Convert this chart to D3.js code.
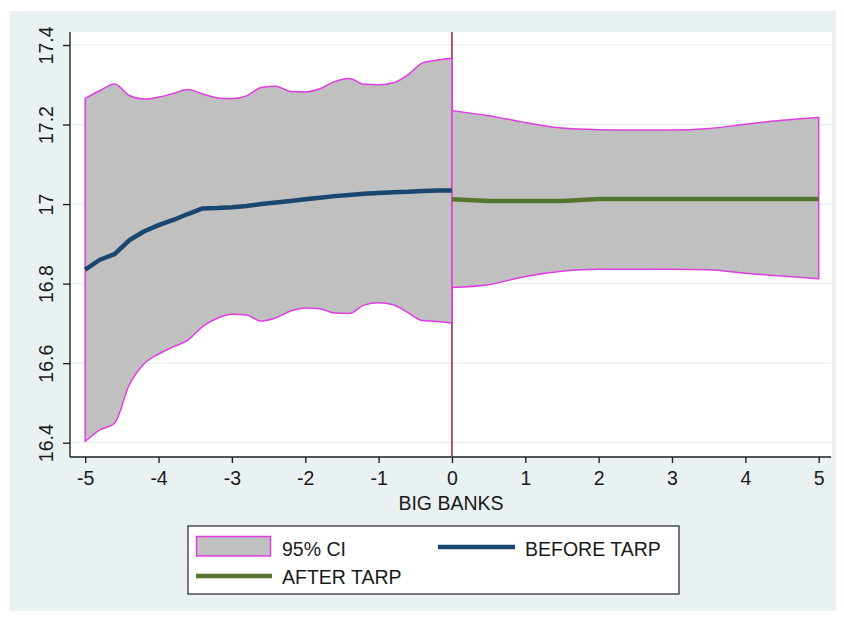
<!DOCTYPE html>
<html>
<head>
<meta charset="utf-8">
<script src="https://cdn.jsdelivr.net/npm/d3@7"></script>
<style>
  html, body { margin: 0; padding: 0; background: #ffffff; }
  svg { display: block; }
  text { font-family: "Liberation Sans", Arial, sans-serif; fill: #1a1a1a; }
</style>
</head>
<body>
<svg id="chart" width="844" height="617"></svg>
<script>
// Period grid before the event (t = -5 .. 0)
const beforeX = [-5, -4.8, -4.6, -4.4, -4.2, -4.0, -3.8, -3.6, -3.4, -3.2, -3.0, -2.8, -2.6,
                 -2.4, -2.2, -2.0, -1.8, -1.6, -1.4, -1.2, -1.0, -0.8, -0.6, -0.4, -0.2, 0];
const beforeFit = [16.835, 16.860, 16.874, 16.909, 16.931, 16.947, 16.960, 16.975, 16.989, 16.990,
                   16.992, 16.995, 17.000, 17.004, 17.008, 17.012, 17.016, 17.020, 17.023, 17.026,
                   17.028, 17.030, 17.031, 17.033, 17.034, 17.034];
const beforeUpper = [17.266, 17.285, 17.302, 17.273, 17.264, 17.269, 17.278, 17.288, 17.277, 17.267,
                     17.265, 17.272, 17.293, 17.296, 17.283, 17.282, 17.290, 17.308, 17.316, 17.301,
                     17.300, 17.305, 17.325, 17.355, 17.362, 17.367];
const beforeLower = [16.403, 16.432, 16.449, 16.545, 16.598, 16.623, 16.641, 16.658, 16.692, 16.713,
                     16.723, 16.721, 16.706, 16.714, 16.731, 16.739, 16.737, 16.726, 16.725, 16.746,
                     16.752, 16.747, 16.727, 16.707, 16.705, 16.701];

// Period grid after the event (t = 0 .. 5)
const afterX = [0, 0.5, 1.0, 1.5, 2.0, 2.5, 3.0, 3.5, 4.0, 4.5, 5.0];
const afterFit = [17.012, 17.008, 17.008, 17.008, 17.013, 17.013, 17.013, 17.013, 17.013, 17.013, 17.013];
const afterUpper = [17.235, 17.222, 17.205, 17.191, 17.187, 17.186, 17.186, 17.190, 17.201, 17.211, 17.218];
const afterLower = [16.790, 16.797, 16.818, 16.831, 16.836, 16.836, 16.836, 16.835, 16.826, 16.819, 16.812];

const xTicks = [-5, -4, -3, -2, -1, 0, 1, 2, 3, 4, 5];
const yTicks = [16.4, 16.6, 16.8, 17, 17.2, 17.4];
const xTitle = "BIG BANKS";
const legendItems = ["95% CI", "BEFORE TARP", "AFTER TARP"];

const colors = {
  graphBg: "#eaf1f3",
  plotBg: "#ffffff",
  grid: "#e6eef0",
  band: "#c0c0c0",
  bandEdge: "#e03ce0",
  before: "#1a476f",
  after: "#55752f",
  xline: "#9b1b3b",
  axis: "#222222"
};

const svg = d3.select("#chart");

// Graph region background
svg.append("rect").attr("x", 10).attr("y", 11).attr("width", 826).attr("height", 600)
  .attr("fill", colors.graphBg);

// Plot region
const plot = { left: 70, right: 832, top: 32, bottom: 456 };
svg.append("rect")
  .attr("x", plot.left).attr("y", plot.top)
  .attr("width", plot.right - plot.left).attr("height", plot.bottom - plot.top)
  .attr("fill", colors.plotBg);

const x = d3.scaleLinear().domain([-5, 5]).range([85.2, 818.7]);
const y = d3.scaleLinear().domain([16.4, 17.4]).range([442.7, 45]);

// Horizontal grid lines
svg.append("g").selectAll("line").data(yTicks).join("line")
  .attr("x1", plot.left).attr("x2", plot.right)
  .attr("y1", d => y(d)).attr("y2", d => y(d))
  .attr("stroke", colors.grid).attr("stroke-width", 1.2);

// Reference line at t = 0
svg.append("line")
  .attr("x1", x(0)).attr("x2", x(0))
  .attr("y1", plot.top).attr("y2", plot.bottom)
  .attr("stroke", colors.xline).attr("stroke-width", 1.5);

// Confidence bands
const band = d3.area().x(d => x(d.x)).y0(d => y(d.lo)).y1(d => y(d.hi)).curve(d3.curveMonotoneX);
const beforeBand = beforeX.map((v, i) => ({ x: v, lo: beforeLower[i], hi: beforeUpper[i] }));
const afterBand = afterX.map((v, i) => ({ x: v, lo: afterLower[i], hi: afterUpper[i] }));
[beforeBand, afterBand].forEach(b => {
  svg.append("path").datum(b).attr("d", band)
    .attr("fill", colors.band)
    .attr("stroke", colors.bandEdge).attr("stroke-width", 1.5)
    .attr("stroke-linejoin", "round");
});

// Fitted lines
const fitLine = d3.line().x(d => x(d.x)).y(d => y(d.v));
svg.append("path").datum(beforeX.map((v, i) => ({ x: v, v: beforeFit[i] })))
  .attr("d", fitLine).attr("fill", "none")
  .attr("stroke", colors.before).attr("stroke-width", 4.5).attr("stroke-linejoin", "round");
svg.append("path").datum(afterX.map((v, i) => ({ x: v, v: afterFit[i] })))
  .attr("d", fitLine).attr("fill", "none")
  .attr("stroke", colors.after).attr("stroke-width", 4.5).attr("stroke-linejoin", "round");

// Axes
const xAxis = d3.axisBottom(x).tickValues(xTicks).tickFormat(d3.format("d")).tickSize(6).tickPadding(8);
const gx = svg.append("g").attr("transform", `translate(0,${plot.bottom + 1})`).call(xAxis);
gx.select(".domain").remove();
gx.selectAll(".tick line").attr("stroke", colors.axis).attr("stroke-width", 1.4);
gx.selectAll(".tick text").attr("font-size", 19.5).attr("fill", "#1a1a1a")
  .attr("font-family", "'Liberation Sans', Arial, sans-serif")
  .text(d => d < 0 ? "-" + Math.abs(d) : d);

const yAxis = d3.axisLeft(y).tickValues(yTicks).tickFormat(d => d3.format("")(d)).tickSize(7).tickPadding(0);
const gy = svg.append("g").attr("transform", `translate(${plot.left},0)`).call(yAxis);
gy.select(".domain").remove();
gy.selectAll(".tick line").attr("stroke", colors.axis).attr("stroke-width", 1.4);
gy.selectAll(".tick text")
  .attr("font-size", 19.5).attr("fill", "#1a1a1a")
  .attr("font-family", "'Liberation Sans', Arial, sans-serif")
  .attr("text-anchor", "middle").attr("dy", null).attr("x", null)
  .attr("transform", "translate(-17,0) rotate(-90)");

// Axis lines
svg.append("line").attr("x1", plot.left).attr("x2", plot.left)
  .attr("y1", plot.top).attr("y2", plot.bottom + 1)
  .attr("stroke", colors.axis).attr("stroke-width", 1.4);
svg.append("line").attr("x1", plot.left).attr("x2", plot.right - 1)
  .attr("y1", plot.bottom + 1).attr("y2", plot.bottom + 1)
  .attr("stroke", colors.axis).attr("stroke-width", 1.4);

// Axis title
svg.append("text").attr("x", (plot.left + plot.right) / 2).attr("y", 510)
  .attr("text-anchor", "middle").attr("font-size", 19.5).text(xTitle);

// Legend
const lg = svg.append("g");
lg.append("rect").attr("x", 188).attr("y", 526).attr("width", 491).attr("height", 68)
  .attr("fill", "#ffffff").attr("stroke", "#222").attr("stroke-width", 1.2);
lg.append("rect").attr("x", 196.5).attr("y", 536.5).attr("width", 74).attr("height", 19.5)
  .attr("fill", colors.band).attr("stroke", colors.bandEdge).attr("stroke-width", 1.5);
lg.append("line").attr("x1", 438).attr("x2", 515).attr("y1", 547).attr("y2", 547)
  .attr("stroke", colors.before).attr("stroke-width", 4.5);
lg.append("line").attr("x1", 196).attr("x2", 272).attr("y1", 576).attr("y2", 576)
  .attr("stroke", colors.after).attr("stroke-width", 4.5);
lg.append("text").attr("x", 282).attr("y", 556).attr("font-size", 19.5).text(legendItems[0]);
lg.append("text").attr("x", 525).attr("y", 556).attr("font-size", 19.5).text(legendItems[1]);
lg.append("text").attr("x", 282).attr("y", 584).attr("font-size", 19.5).text(legendItems[2]);
</script>
</body>
</html>
